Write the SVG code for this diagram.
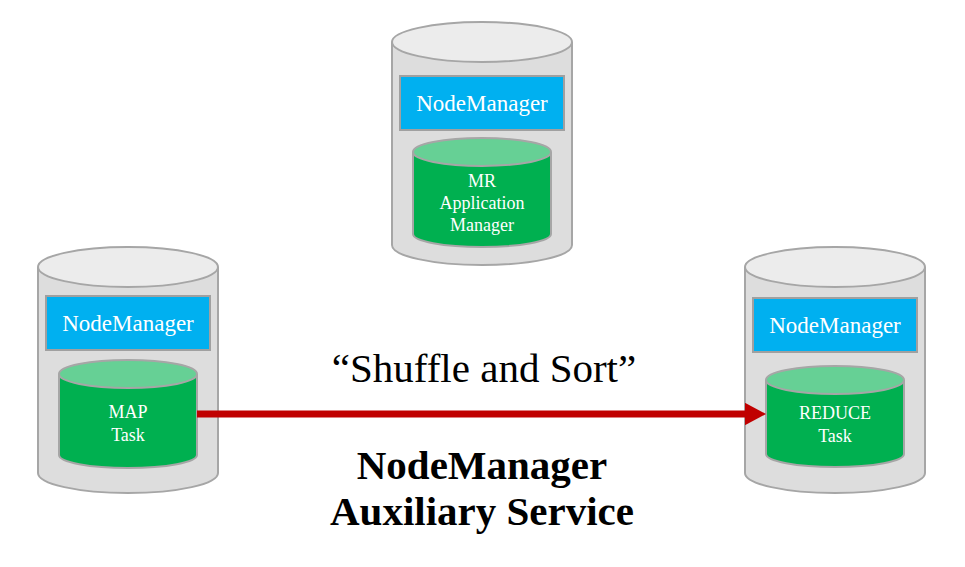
<svg xmlns="http://www.w3.org/2000/svg" width="965" height="567" viewBox="0 0 965 567">
<style>
.body{fill:#dddddd;stroke:#a6a6a6;stroke-width:2}
.top{fill:#ececec;stroke:#a6a6a6;stroke-width:2}
.nm{fill:#00b0f0;stroke:#a0a0a0;stroke-width:2}
.gb{fill:#00b050;stroke:#a6a6a6;stroke-width:2}
.gt{fill:#66d095;stroke:#a6a6a6;stroke-width:2}
text{font-family:"Liberation Serif",serif;text-anchor:middle}
.nmt{font-size:23px;fill:#fff}
.wt{font-size:18px;fill:#fff}
.big{font-size:41px;fill:#000}
</style>
<defs><marker id="ah" markerWidth="3" markerHeight="3.2" refX="0" refY="1.6" orient="auto" markerUnits="strokeWidth"><path d="M0,0L3,1.6L0,3.2z" fill="#c00000"/></marker></defs>
<g id="top-node">
<path class="body" d="M392,42V245A90,20 0 0 0 572,245V42"/>
<ellipse class="top" cx="482" cy="42" rx="90" ry="20"/>
<rect class="nm" x="400" y="76" width="164" height="54"/>
<text class="nmt" x="482" y="111">NodeManager</text>
<path class="gb" d="M413,152V234A69,13 0 0 0 551,234V152"/>
<ellipse class="gt" cx="482" cy="152" rx="69" ry="14"/>
<text class="wt" x="482" y="187">MR</text>
<text class="wt" x="482" y="209">Application</text>
<text class="wt" x="482" y="231">Manager</text>
</g>
<g id="left-node">
<path class="body" d="M38,267V473A90,20 0 0 0 218,473V267"/>
<ellipse class="top" cx="128" cy="267" rx="90" ry="20"/>
<rect class="nm" x="46" y="296" width="164" height="54"/>
<text class="nmt" x="128" y="331">NodeManager</text>
<path class="gb" d="M59,374V455A69,13 0 0 0 197,455V374"/>
<ellipse class="gt" cx="128" cy="374" rx="69" ry="14"/>
<text class="wt" x="128" y="418" font-size="16">MAP</text>
<text class="wt" x="128" y="441" font-size="16">Task</text>
</g>
<g id="right-node">
<path class="body" d="M745,267V473A90,20 0 0 0 925,473V267"/>
<ellipse class="top" cx="835" cy="267" rx="90" ry="20"/>
<rect class="nm" x="753" y="298" width="164" height="54"/>
<text class="nmt" x="835" y="333">NodeManager</text>
<path class="gb" d="M766,380V454A69,13 0 0 0 904,454V380"/>
<ellipse class="gt" cx="835" cy="380" rx="69" ry="14"/>
<text class="wt" x="835" y="419" font-size="16">REDUCE</text>
<text class="wt" x="835" y="442" font-size="16">Task</text>
</g>
<g id="connectors">
<line x1="197" y1="414" x2="745" y2="414" stroke="#c00000" stroke-width="7" marker-end="url(#ah)"/>
</g>
<text class="big" x="484" y="382">“Shuffle and Sort”</text>
<text class="big" x="482" y="479" font-weight="bold">NodeManager</text>
<text class="big" x="482" y="525" font-weight="bold">Auxiliary Service</text>
</svg>
